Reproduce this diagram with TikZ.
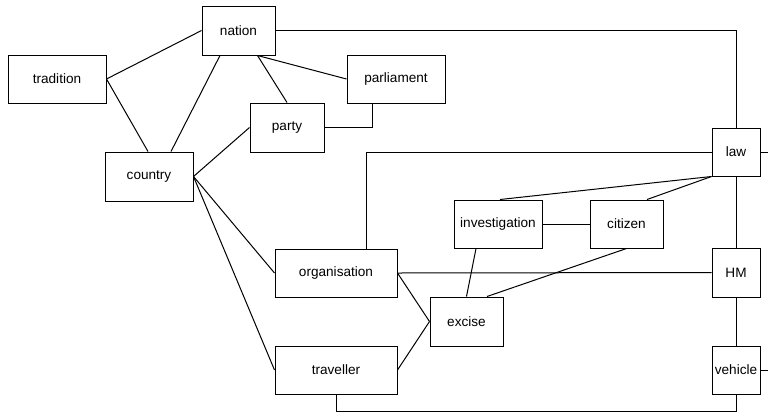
\documentclass[tikz,border=0pt]{standalone}
\usepackage{fontspec}
\setmainfont{Liberation Sans}
\usetikzlibrary{calc}
\begin{document}
\begin{tikzpicture}[x=1pt,y=-1pt,
  box/.style={draw,line width=1pt,rectangle,inner sep=0pt,fill=white,
    font=\fontsize{13.6}{16}\selectfont},
  link/.style={draw,line width=1pt}]
\useasboundingbox[fill=white] (0,0) rectangle (768,413);
\node[box,minimum width=73pt,minimum height=49pt] (nation) at (238.5,30.5) {nation};
\node[box,minimum width=98pt,minimum height=48pt] (tradition) at (57,79) {tradition};
\node[box,minimum width=88pt,minimum height=49pt] (country) at (149,176.5) {country};
\node[box,minimum width=74pt,minimum height=49pt] (party) at (287,127.5) {party};
\node[box,minimum width=98pt,minimum height=48pt] (parliament) at (396,79) {parliament};
\node[box,minimum width=48pt,minimum height=48pt] (law) at (736,152) {law};
\node[box,minimum width=88pt,minimum height=48pt] (investigation) at (498,224) {investigation};
\node[box,minimum width=73pt,minimum height=48pt] (citizen) at (626.5,224) {citizen};
\node[box,minimum width=122pt,minimum height=48pt] (organisation) at (336,273) {organisation};
\node[box,minimum width=48pt,minimum height=49pt] (HM) at (736,272.5) {HM};
\node[box,minimum width=73pt,minimum height=49pt] (excise) at (466.5,321.5) {excise};
\node[box,minimum width=122pt,minimum height=48pt] (traveller) at (336,370) {traveller};
\node[box,minimum width=48pt,minimum height=48pt] (vehicle) at (736,370) {vehicle};
\coordinate (lawstub) at (768,152);
\coordinate (vehstub) at (768,370);
\coordinate (bottom) at (336,411);
\begin{scope}[on background layer/.style={}]
\path[link] (tradition.east) -- (nation.west);
\path[link] (tradition.east) -- ([xshift=-1pt]country.north);
\path[link] ([xshift=-18.5pt]nation.south) -- ([xshift=22pt]country.north);
\path[link] ([xshift=19pt]nation.south) -- (party.north);
\path[link] ([xshift=19pt]nation.south) -- (parliament.west);
\path[link] ([xshift=-24pt]parliament.south) |- (party.east);
\path[link] (country.east) -- (party.west);
\path[link] (nation.east) -| (law.north);
\path[link] (law.west) -| ([xshift=30pt]organisation.north);
\path[link] (law.east) -- (lawstub);
\path[link] (law.south west) -- ([xshift=2pt]investigation.north);
\path[link] (law.south west) -- ([xshift=20.5pt]citizen.north);
\path[link] (investigation.east) -- (citizen.west);
\path[link] ([xshift=-22pt]investigation.south) -- (excise.north);
\path[link] (citizen.south) -- ([xshift=20.5pt]excise.north);
\path[link] (country.east) -- (organisation.west);
\path[link] (country.east) -- (traveller.west);
\path[link] (organisation.east) -- (HM.west);
\path[link] (organisation.east) -- (excise.west);
\path[link] (traveller.east) -- (excise.west);
\path[link] (law.south) -- (HM.north);
\path[link] (HM.south) -- (vehicle.north);
\path[link] (vehicle.east) -- (vehstub);
\path[link] (traveller.south) -- (bottom) -| (vehicle.south);
\end{scope}
\end{tikzpicture}
\end{document}
